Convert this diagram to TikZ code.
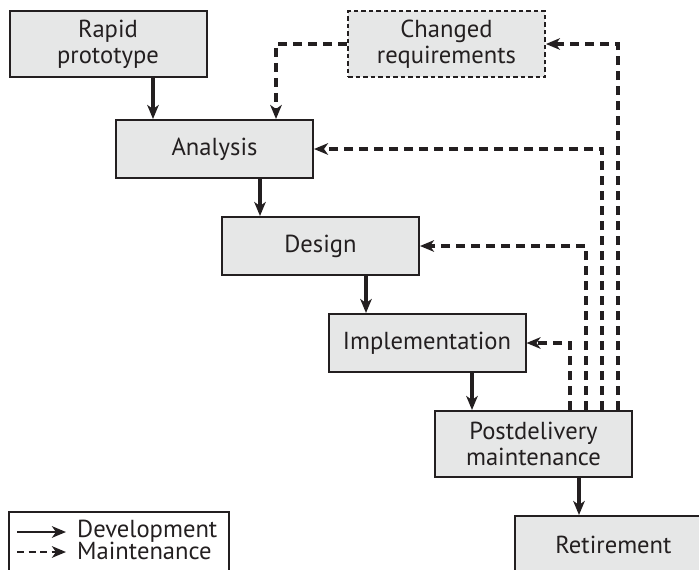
\documentclass[tikz,border=0pt]{standalone}
\usepackage{fontspec}
\setmainfont{PT Sans}
\usetikzlibrary{arrows.meta,calc}
\definecolor{ink}{HTML}{231F20}
\definecolor{boxfill}{HTML}{E6E7E7}
\begin{document}
\begin{tikzpicture}[x=1pt,y=-1pt,
  box/.style={draw=ink, fill=boxfill, line width=2pt, minimum width=197pt, minimum height=58pt,
    inner sep=0pt, align=center, font=\fontsize{24.6}{26}\selectfont, text=ink},
  tallbox/.style={box, minimum height=66pt},
  dev/.style={draw=ink, line width=3.3pt, -{Stealth[length=14pt,width=11.5pt,inset=4pt]}},
  mnt/.style={dev, dash pattern=on 9.5pt off 5.5pt},
  legtext/.style={anchor=west, inner sep=1pt, font=\fontsize{24.6}{26}\selectfont, text=ink}]
\useasboundingbox (0,0) rectangle (699,570);
\clip (0,0) rectangle (699,570);
% boxes
\node[tallbox] (rp) at (108,44) {Rapid\\prototype};
\node[tallbox, line width=1.8pt, dash pattern=on 4.5pt off 3pt] (cr) at (446.5,44) {Changed\\requirements};
\node[box] (an) at (214.5,149) {Analysis};
\node[box] (de) at (320.5,246) {Design};
\node[box] (im) at (427,343) {Implementation};
\node[tallbox] (pd) at (533.5,444) {Postdelivery\\maintenance};
\node[box] (re) at (613.5,545) {Retirement};
% development arrows
\draw[dev] ([xshift=45pt]rp.south) -- ([xshift=45pt]rp.south |- an.north);
\draw[dev] ([xshift=45.5pt]an.south) -- ([xshift=45.5pt]an.south |- de.north);
\draw[dev] ([xshift=45.5pt]de.south) -- ([xshift=45.5pt]de.south |- im.north);
\draw[dev] ([xshift=45pt]im.south) -- ([xshift=45pt]im.south |- pd.north);
\draw[dev] ([xshift=45.5pt]pd.south) -- ([xshift=45.5pt]pd.south |- re.north);
% maintenance arrows
\coordinate (crk) at ([xshift=61.5pt]an.north |- cr.west);
\draw[mnt] (cr.west) -- (crk) -- (crk |- an.north);
\draw[mnt] ([xshift=36.5pt]pd.north) |- (im.east);
\draw[mnt] ([xshift=52.5pt]pd.north) |- (de.east);
\draw[mnt] ([xshift=68.5pt]pd.north) |- (an.east);
\draw[mnt] ([xshift=84.5pt]pd.north) |- (cr.east);
% legend
\draw[ink, line width=2pt] (9,580) -- (9,512) -- (229,512) -- (229,580);
\node[legtext] (ldev) at (76,531) {Development};
\node[legtext] (lmnt) at (76,551) {Maintenance};
\coordinate (ld) at (17,532);
\coordinate (lm) at (17,552);
\draw[dev, line width=2.6pt] (ld) -- ([xshift=-10pt]ld -| ldev.west);
\draw[mnt, line width=2.6pt, dash pattern=on 7pt off 4.5pt] (lm) -- ([xshift=-10pt]lm -| lmnt.west);
\end{tikzpicture}
\end{document}
